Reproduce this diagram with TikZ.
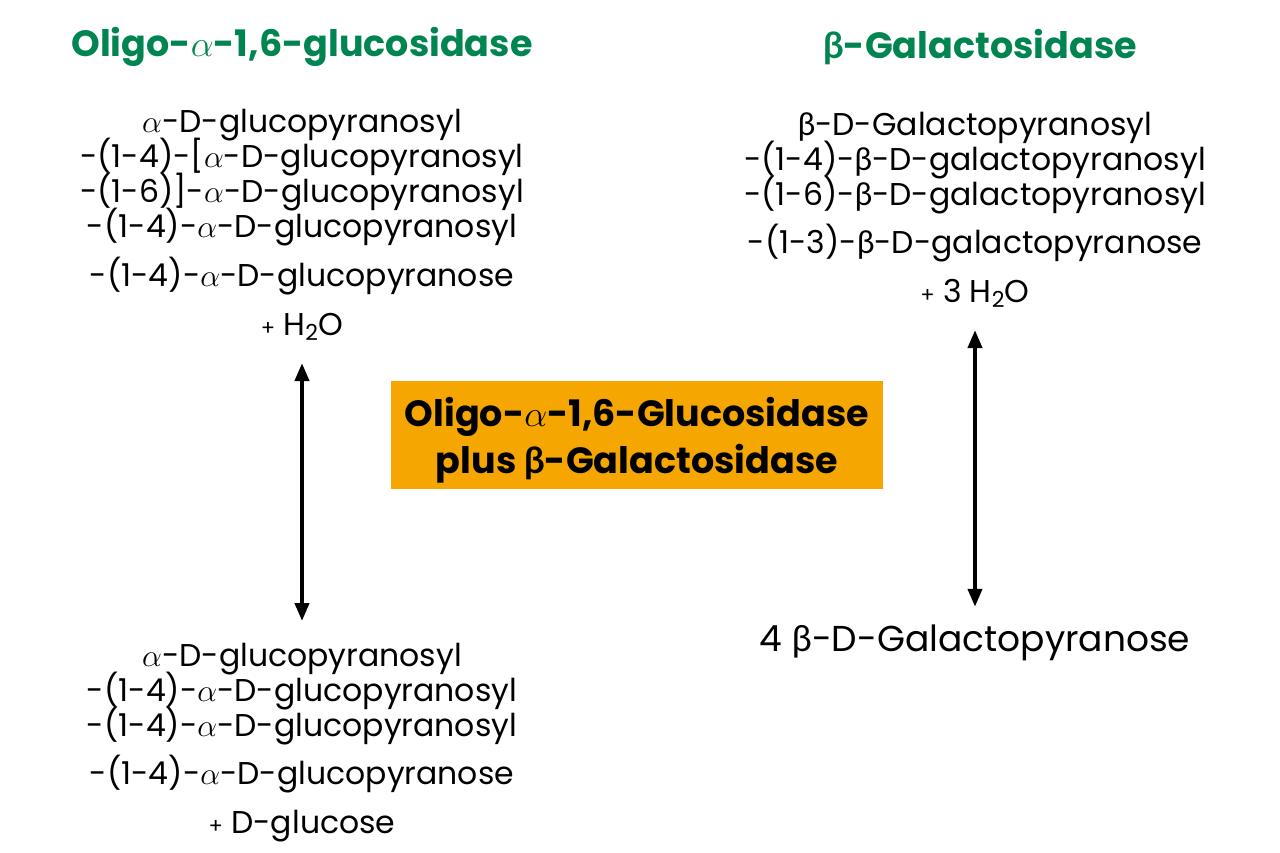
\documentclass[tikz,border=0pt]{standalone}
\usepackage{fix-cm}
\usepackage{fontspec}
\setmainfont{Poppins}
\newfontfamily\grkfont{Lato}
\usetikzlibrary{arrows.meta,positioning}
\definecolor{enzgreen}{RGB}{0,133,80}
\definecolor{enzorange}{RGB}{245,166,0}
\newcommand{\aGr}{$\alpha$}
\newcommand{\bGr}{{\grkfont β}}
\newcommand{\smplus}{{\fontsize{21}{21}\selectfont+}}
\newcommand{\tightlines}{\lineskiplimit=-40pt\lineskip=0pt}

\begin{document}
\begin{tikzpicture}[x=1pt,y=-1pt,
  title/.style={font=\fontsize{36.5}{40}\selectfont\bfseries, text=enzgreen, inner sep=0pt},
  chain/.style={font=\fontsize{31.5}{35}\selectfont\tightlines, align=center, inner sep=0pt},
  biarrow/.style={{Triangle[length=18pt,width=14pt]}-{Triangle[length=18pt,width=14pt]}, line width=4pt}]
  \useasboundingbox (0,0) rectangle (1280,853);

  % enzyme names
  \node[title] (gluc) at (302,47) {Oligo-\aGr-1,6-glucosidase};
  \node[title] (galac) at (980,47) {\bGr-Galactosidase};

  % substrates
  \node[chain, anchor=north] (glucin) at (302,109)
    {\aGr-D-glucopyranosyl\\ -(1-4)-[\aGr-D-glucopyranosyl\\ -(1-6)]-\aGr-D-glucopyranosyl\\
     -(1-4)-\aGr-D-glucopyranosyl\\[14pt] -(1-4)-\aGr-D-glucopyranose\\[14pt] \smplus\ H\textsubscript{2}O};
  \node[chain, anchor=north] (galin) at (975,112)
    {\bGr-D-Galactopyranosyl\\ -(1-4)-\bGr-D-galactopyranosyl\\ -(1-6)-\bGr-D-galactopyranosyl\\[13pt]
     -(1-3)-\bGr-D-galactopyranose\\[14pt] \smplus\ 3 H\textsubscript{2}O};

  % both enzymes
  \node[fill=enzorange, minimum width=492pt, minimum height=108pt] (both) at (637,435) {};
  \node[align=center, font=\fontsize{36.5}{47}\selectfont\bfseries\tightlines] (bothtext) at (637,440)
    {Oligo-\aGr-1,6-Glucosidase\\ plus \bGr-Galactosidase};

  % products
  \node[chain, anchor=north] (glucout) at (302,643)
    {\aGr-D-glucopyranosyl\\ -(1-4)-\aGr-D-glucopyranosyl\\ -(1-4)-\aGr-D-glucopyranosyl\\[13pt]
     -(1-4)-\aGr-D-glucopyranose\\[14pt] \smplus\ D-glucose};
  \node[chain, font=\fontsize{36}{40}\selectfont] (galout) at (975,643) {4 \bGr-D-Galactopyranose};

  \draw[biarrow, shorten <=22pt, shorten >=22pt] (glucin) -- (glucout);
  \draw[biarrow, shorten <=22pt, shorten >=18pt] (galin) -- (galout);
\end{tikzpicture}
\end{document}
